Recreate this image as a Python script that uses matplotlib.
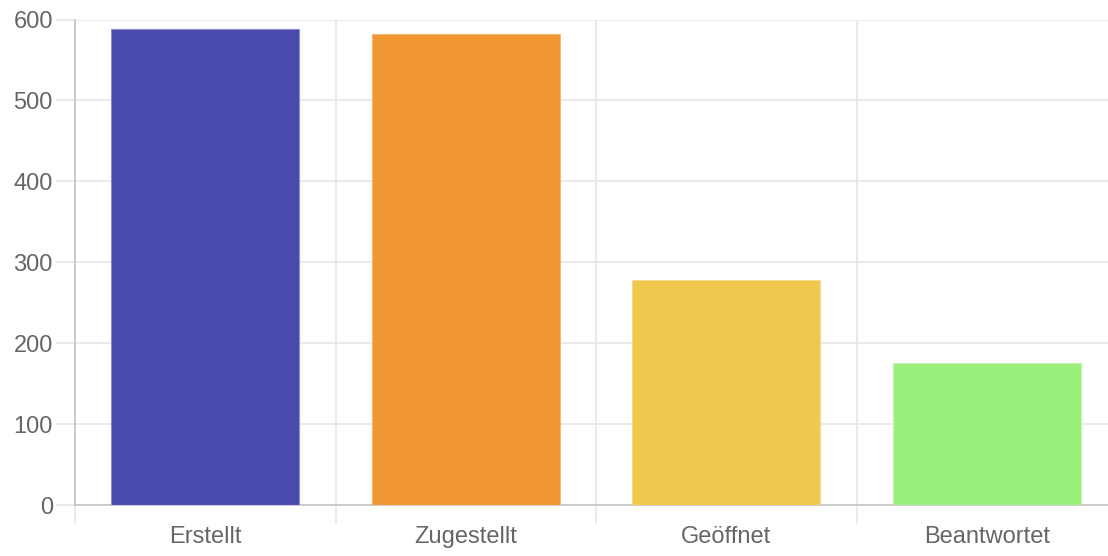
import matplotlib.pyplot as plt
from matplotlib.ticker import FixedLocator

plt.rcParams['font.family'] = ['Liberation Sans', 'DejaVu Sans']

categories = ["Erstellt", "Zugestellt", "Geöffnet", "Beantwortet"]
counts = [588, 582, 278, 176]
colors = ['#4a4aad', '#f09733', '#f0c84d', '#9bef7c']
edges = ['#8a8ad0', '#f5b877', '#f5dc8c', '#c4f5b0']
y_ticks = [0, 100, 200, 300, 400, 500, 600]

fig = plt.figure(figsize=(11.08, 5.56), dpi=100)
ax = fig.add_axes([75/1108, 51/556, 1042/1108, 485.5/556])

x = range(len(categories))
ax.bar(x, counts, width=0.72, color=colors, edgecolor=edges, linewidth=0.8, zorder=3)

ax.set_xlim(-0.5, len(categories) - 0.5)
ax.set_ylim(0, 600)

ax.set_xticks(list(x))
ax.set_xticklabels(categories)
ax.xaxis.set_minor_locator(FixedLocator([i - 0.5 for i in range(len(categories) + 1)]))
ax.set_yticks(y_ticks)

grid_c = '#e6e6e6'
ax.grid(True, axis='y', color=grid_c, linewidth=1.2, zorder=0)
ax.grid(True, axis='x', which='minor', color=grid_c, linewidth=1.2, zorder=0)
ax.grid(False, axis='x', which='major')

ax.tick_params(axis='x', which='major', length=0, pad=15, labelsize=17, labelcolor='#666666')
ax.tick_params(axis='x', which='minor', length=14, width=1.2, color=grid_c)
ax.tick_params(axis='y', length=14, width=1.2, color=grid_c, pad=2, labelsize=17, labelcolor='#666666')

for s in ['top', 'right']:
    ax.spines[s].set_visible(False)
ax.spines['left'].set_color('#c4c4c4')
ax.spines['bottom'].set_color('#c4c4c4')
ax.spines['left'].set_linewidth(1.2)
ax.spines['bottom'].set_linewidth(1.2)

plt.savefig("out.png", dpi=100)
